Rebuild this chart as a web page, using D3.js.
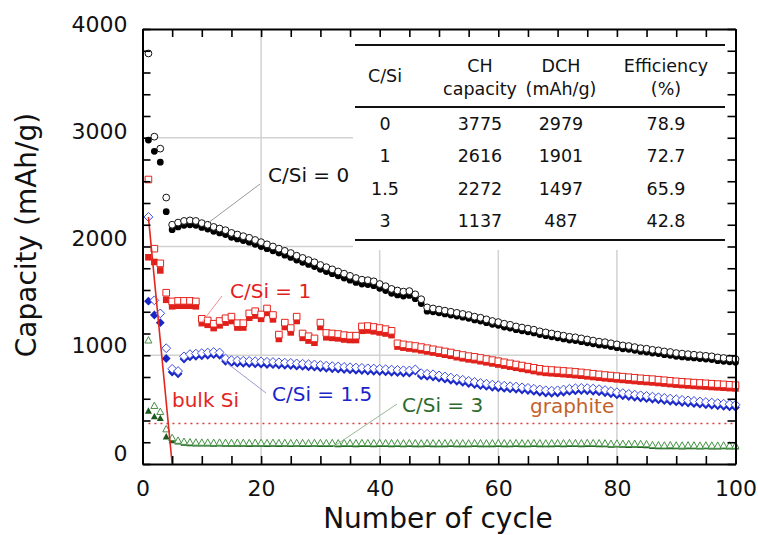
<!DOCTYPE html>
<html><head><meta charset="utf-8">
<script src="https://cdn.jsdelivr.net/npm/d3@7"></script>
<style>
body{margin:0;background:#fff}
svg{display:block}
text{font-family:"DejaVu Sans",sans-serif}
</style>
</head><body>
<svg id="chart" width="758" height="535"></svg>
<script>
// cycle numbers 1..100
const cycles = d3.range(1, 101);

// C/Si = 0 (open = charge, filled = discharge), mAh/g
const blackCharge = [3775,3010,2900,2450,2200,2220,2235,2240,2235,2215,
  2200,2180,2165,2150,2125,2110,2095,2080,2060,2040,
  2020,2000,1980,1960,1940,1915,1895,1875,1855,1830,
  1810,1790,1770,1750,1730,1710,1695,1690,1680,1655,
  1635,1610,1595,1585,1590,1560,1515,1440,1430,1420,
  1410,1400,1390,1380,1370,1355,1345,1330,1315,1305,
  1290,1280,1265,1255,1245,1235,1220,1210,1200,1190,
  1180,1170,1165,1155,1145,1135,1125,1120,1110,1100,
  1090,1085,1075,1065,1060,1050,1045,1035,1030,1020,
  1015,1010,1005,1000,995,990,980,975,970,965];
const blackDischarge = [2979,2875,2775,2320,2155,2180,2195,2200,2195,2175,
  2160,2140,2125,2110,2085,2070,2055,2040,2020,2000,
  1980,1960,1940,1920,1900,1875,1855,1835,1815,1790,
  1770,1750,1730,1710,1690,1670,1655,1650,1640,1615,
  1595,1570,1555,1545,1550,1520,1475,1405,1400,1390,
  1380,1370,1360,1350,1340,1325,1315,1300,1285,1275,
  1260,1250,1235,1225,1215,1205,1190,1180,1170,1160,
  1150,1140,1135,1125,1115,1105,1095,1090,1080,1070,
  1060,1055,1045,1035,1030,1020,1015,1005,1000,990,
  985,980,975,970,965,960,950,945,940,935];

// C/Si = 1
const redCharge = [2616,1980,1845,1575,1495,1500,1500,1500,1495,1335,
  1320,1290,1315,1340,1355,1295,1295,1385,1405,1375,
  1430,1370,1190,1300,1250,1355,1200,1175,1155,1300,
  1205,1200,1195,1185,1180,1180,1265,1268,1260,1250,
  1240,1225,1110,1100,1092,1085,1075,1065,1055,1045,
  1035,1025,1012,1002,992,985,975,965,955,945,
  935,925,915,905,895,885,875,868,864,860,
  856,852,847,842,836,830,824,818,813,808,
  803,798,793,788,784,780,775,770,765,760,
  756,752,748,745,742,738,735,732,728,725];
const redDischarge = [1901,1858,1780,1510,1450,1455,1455,1455,1450,1295,
  1280,1250,1275,1300,1315,1255,1255,1345,1365,1335,
  1390,1330,1150,1260,1210,1315,1160,1135,1115,1260,
  1165,1160,1155,1145,1140,1140,1225,1228,1220,1210,
  1200,1185,1080,1070,1062,1055,1045,1035,1025,1015,
  1005,995,982,972,962,955,945,935,925,915,
  905,895,885,875,865,855,845,838,834,830,
  826,822,817,812,806,800,794,788,783,778,
  773,768,763,758,754,750,745,740,735,730,
  726,722,718,715,712,708,705,702,698,695];

// C/Si = 1.5
const blueCharge = [2272,1505,1385,1065,875,855,990,1010,1015,1020,
  1025,1030,1025,970,955,952,950,948,945,943,
  940,938,935,932,930,925,922,918,915,910,
  905,900,897,893,890,887,884,880,878,875,
  872,868,865,862,860,870,835,830,825,815,
  805,795,785,775,765,755,745,738,730,725,
  720,715,712,705,700,692,685,678,675,678,
  685,692,697,700,698,694,688,680,670,660,
  652,645,638,632,626,620,614,608,602,596,
  590,585,580,575,570,565,560,555,550,545];
const blueDischarge = [1497,1370,1300,970,845,830,965,985,990,995,
  1000,1005,1000,945,930,927,925,923,920,918,
  915,913,910,907,905,900,897,893,890,885,
  880,875,872,868,865,862,859,855,853,850,
  847,843,840,837,835,855,810,805,800,790,
  780,770,760,750,740,730,720,713,705,700,
  695,690,687,680,675,667,660,653,650,653,
  660,667,672,675,673,669,663,655,645,635,
  627,620,613,607,601,595,589,583,577,571,
  565,560,555,550,545,540,535,530,525,520];

// C/Si = 3
const greenCharge = [1137,535,480,320,240,215,205,200,198,197,
  197,195,197,195,194,196,195,193,195,194,
  193,195,193,194,192,194,193,192,194,193,
  192,193,191,193,192,191,193,192,191,193,
  192,191,192,190,192,191,190,192,191,190,
  191,192,190,191,190,192,191,190,191,192,
  191,190,192,191,190,192,191,190,191,192,
  191,193,192,191,193,192,191,190,186,188,
  186,184,186,184,182,174,172,171,173,171,
  170,172,171,169,171,170,169,171,170,169];
const greenDischarge = [487,435,420,250,215,203,193,188,186,185,
  185,183,185,183,182,184,183,181,183,182,
  181,183,181,182,180,182,181,180,182,181,
  180,181,179,181,180,179,181,180,179,181,
  180,179,180,178,180,179,178,180,179,178,
  179,180,178,179,178,180,179,178,179,180,
  179,178,180,179,178,180,179,178,179,180,
  179,181,180,179,181,180,179,178,174,176,
  174,172,174,172,170,162,160,159,161,159,
  158,160,159,157,159,158,157,159,158,157];

// bulk Si reference curve and graphite theoretical capacity
const bulkSiCycles = [1, 2, 3, 4, 5];
const bulkSiValues = [2270, 1700, 1135, 570, 0];
const graphiteCapacity = 372;
const graphiteCycles = [1, 100];

// first-cycle summary table
const tableHeader = [["C/Si"], ["CH", "capacity"], ["DCH", "(mAh/g)"], ["Efficiency", "(%)"]];
const tableRatio = ["0", "1", "1.5", "3"];
const tableCharge = [3775, 2616, 2272, 1137];
const tableDischarge = [2979, 1901, 1497, 487];
const tableEfficiency = ["78.9", "72.7", "65.9", "42.8"];

// axis ticks
const xTickLabels = [0, 20, 40, 60, 80, 100];
const yTickLabels = [0, 1000, 2000, 3000, 4000];
const xMinorTicks = d3.range(0, 101, 5);
const yMinorTicks = d3.range(0, 4001, 200);
const xGrid = [20, 40, 60, 80];
const yGrid = [1000, 2000, 3000];

const svg = d3.select("#chart");
const x = d3.scaleLinear().domain([0, 100]).range([142.5, 735.5]);
const y = d3.scaleLinear().domain([0, 4000]).range([464, 29]);
// tick labels sit slightly above their ticks
const yLabel = d3.scaleLinear().domain([0, 4000]).range([453, 24]);

// grid
const grid = svg.append("g").attr("stroke", "#d2d2d2").attr("stroke-width", 1.5);
grid.selectAll("line.gx").data(xGrid).join("line").attr("class", "gx")
  .attr("x1", d => x(d)).attr("x2", d => x(d)).attr("y1", y(4000)).attr("y2", y(0));
grid.selectAll("line.gy").data(yGrid).join("line").attr("class", "gy")
  .attr("x1", x(0)).attr("x2", x(100)).attr("y1", d => y(d)).attr("y2", d => y(d));

// table panel hides the grid behind it
svg.append("rect").attr("x", 353).attr("y", 31).attr("width", 382).attr("height", 219).attr("fill", "#fff");

// graphite line
svg.append("line")
  .attr("x1", x(graphiteCycles[0])).attr("x2", x(graphiteCycles[1]))
  .attr("y1", y(graphiteCapacity)).attr("y2", y(graphiteCapacity))
  .attr("stroke", "#e03a3a").attr("stroke-width", 1.6).attr("stroke-dasharray", "2,4");

// marker shapes
const shapes = {
  circle: r => `M${-r},0a${r},${r} 0 1,0 ${2*r},0a${r},${r} 0 1,0 ${-2*r},0Z`,
  square: r => `M${-r},${-r}h${2*r}v${2*r}h${-2*r}Z`,
  diamond: r => `M0,${-r}L${r},0L0,${r}L${-r},0Z`,
  triangle: r => `M0,${-r}L${r*0.95},${r*0.72}L${-r*0.95},${r*0.72}Z`
};

const series = [
  {charge: greenCharge, discharge: greenDischarge, shape: "triangle", r: 3.7, stroke: "#459445", fill: "#1d5a1d"},
  {charge: blueCharge, discharge: blueDischarge, shape: "diamond", r: 4.4, stroke: "#3c4ce0", fill: "#1a26c4"},
  {charge: redCharge, discharge: redDischarge, shape: "square", r: 3.3, stroke: "#e5231d", fill: "#e0201a"},
  {charge: blackCharge, discharge: blackDischarge, shape: "circle", r: 3.4, stroke: "#111", fill: "#000"}
];

series.forEach(s => {
  const g = svg.append("g");
  const path = shapes[s.shape](s.r);
  g.selectAll("path.dch").data(s.discharge.map((v, i) => [cycles[i], v])).join("path")
    .attr("class", "dch").attr("d", path)
    .attr("transform", d => `translate(${x(d[0])},${y(d[1])})`)
    .attr("fill", s.fill);
  g.selectAll("path.ch").data(s.charge.map((v, i) => [cycles[i], v])).join("path")
    .attr("class", "ch").attr("d", path)
    .attr("transform", d => `translate(${x(d[0])},${y(d[1])})`)
    .attr("fill", "#fff").attr("stroke", s.stroke).attr("stroke-width", 1);
});

// bulk Si
svg.append("path")
  .datum(bulkSiCycles.map((c, i) => [c, bulkSiValues[i]]))
  .attr("d", d3.line().x(d => x(d[0])).y(d => y(d[1])))
  .attr("fill", "none").attr("stroke", "#e3261e").attr("stroke-width", 1.6);

// axes frame with inward ticks
const styleAxis = g => {
  g.select(".domain").attr("stroke", "#000").attr("stroke-width", 2);
  g.selectAll(".tick line").attr("stroke", "#000").attr("stroke-width", 1.6);
  g.selectAll(".tick text").remove();
};
svg.append("g").attr("transform", `translate(0,${y(0)})`)
  .call(d3.axisBottom(x).tickValues(xMinorTicks).tickSize(-8).tickSizeOuter(0)).call(styleAxis);
svg.append("g").attr("transform", `translate(0,${y(4000)})`)
  .call(d3.axisTop(x).tickValues(xMinorTicks).tickSize(-8).tickSizeOuter(0)).call(styleAxis);
svg.append("g").attr("transform", `translate(${x(0)},0)`)
  .call(d3.axisLeft(y).tickValues(yMinorTicks).tickSize(-8).tickSizeOuter(0)).call(styleAxis);
svg.append("g").attr("transform", `translate(${x(100)},0)`)
  .call(d3.axisRight(y).tickValues(yMinorTicks).tickSize(-8).tickSizeOuter(0)).call(styleAxis);

// tick labels
const labelAxis = g => {
  g.select(".domain").remove();
  g.selectAll(".tick line").remove();
  g.selectAll(".tick text").attr("font-family", "DejaVu Sans").attr("font-size", 22).attr("fill", "#111");
};
svg.append("g").attr("transform", `translate(0,${y(0)})`)
  .call(d3.axisBottom(x).tickValues(xTickLabels).tickSize(0).tickPadding(16).tickFormat(d3.format("d"))).call(labelAxis);
svg.append("g").attr("transform", `translate(${x(0)},0)`)
  .call(d3.axisLeft(yLabel).tickValues(yTickLabels).tickSize(0).tickPadding(15).tickFormat(d3.format("d"))).call(labelAxis);

// axis titles
svg.append("text").attr("x", 438).attr("y", 528).attr("text-anchor", "middle")
  .attr("font-size", 28).attr("fill", "#111").text("Number of cycle");
svg.append("text").attr("transform", "translate(36,235) rotate(-90)").attr("text-anchor", "middle")
  .attr("font-size", 28).attr("fill", "#111").text("Capacity (mAh/g)");

// annotations with leader lines
const notes = [
  {text: "C/Si = 0", tx: 268, ty: 182, color: "#111", line: [[208, 223], [260, 184]], lineColor: "#9a9a9a"},
  {text: "C/Si = 1", tx: 230, ty: 298, color: "#e41e1e", line: [[202, 322], [222, 296]], lineColor: "#f09090"},
  {text: "C/Si = 1.5", tx: 272, ty: 401, color: "#1a24c8", line: [[223, 360], [266, 393]], lineColor: "#9a9ad8"},
  {text: "C/Si = 3", tx: 402, ty: 412, color: "#2c6a2c", line: [[333, 447], [397, 404]], lineColor: "#9ab89a"},
  {text: "bulk Si", tx: 172, ty: 407, color: "#e3261e"},
  {text: "graphite", tx: 530, ty: 413, color: "#c3622c"}
];
notes.forEach(n => {
  if (n.line) svg.append("line").attr("x1", n.line[0][0]).attr("y1", n.line[0][1])
    .attr("x2", n.line[1][0]).attr("y2", n.line[1][1]).attr("stroke", n.lineColor).attr("stroke-width", 1);
  svg.append("text").attr("x", n.tx).attr("y", n.ty).attr("font-size", 20).attr("fill", n.color).text(n.text);
});

// summary table
const table = svg.append("g").attr("font-size", 17.5).attr("fill", "#111").attr("text-anchor", "middle");
const colX = [385, 480, 561, 666];
[45, 107, 240].forEach((ly, i) => table.append("line").attr("x1", 355).attr("x2", 725)
  .attr("y1", ly).attr("y2", ly).attr("stroke", "#111").attr("stroke-width", i === 1 ? 1.8 : 2));
tableHeader.forEach((lines, i) => {
  if (lines.length === 1) {
    table.append("text").attr("x", colX[i]).attr("y", 82).text(lines[0]);
  } else {
    table.append("text").attr("x", colX[i]).attr("y", 72).text(lines[0]);
    table.append("text").attr("x", colX[i]).attr("y", 95).text(lines[1]);
  }
});
const rowY = [130, 162, 195, 227];
tableRatio.forEach((r, i) => {
  table.append("text").attr("x", colX[0]).attr("y", rowY[i]).text(r);
  table.append("text").attr("x", colX[1]).attr("y", rowY[i]).text(tableCharge[i]);
  table.append("text").attr("x", colX[2]).attr("y", rowY[i]).text(tableDischarge[i]);
  table.append("text").attr("x", colX[3]).attr("y", rowY[i]).text(tableEfficiency[i]);
});
</script>
</body></html>
